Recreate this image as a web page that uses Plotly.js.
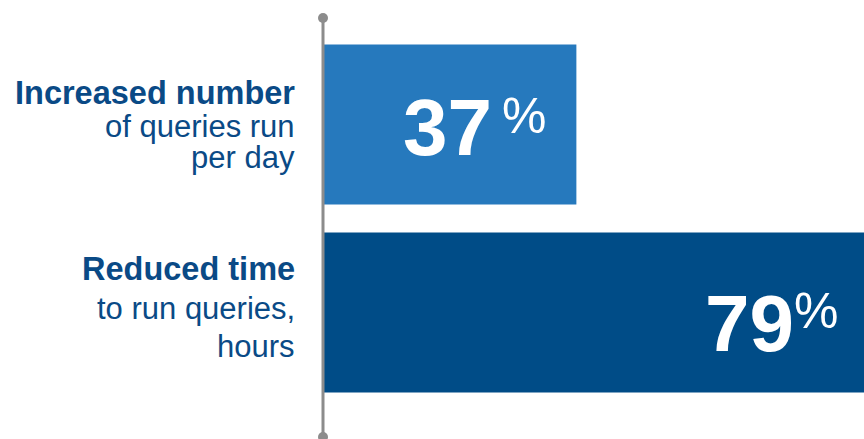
<!DOCTYPE html>
<html><head><meta charset="utf-8">
<script src="https://cdn.plot.ly/plotly-3.0.1.min.js"></script>
<style>html,body{margin:0;padding:0;background:#fff}#chart{width:864px;height:439px}</style>
</head><body><div id="chart"></div>
<script>
// ---- data ----
const categories = ['Increased number', 'Reduced time'];
const subLine1 = ['of queries run', 'to run queries,'];
const subLine2 = ['per day', 'hours'];
const values = [37, 79];
const valueSuffix = '%';

// ---- styles ----
const barColors = ['#2679BD', '#004C87'];
const labelColor = '#0a4a86';
const headShift = [32, 44];
const sub1Shift = [-2, 4];
const sub2Shift = [-33, -34];
const numXShift = [-82, -68];
const numYShift = [-2.5, -10.5];
const pctXShift = [-28, -24];
const pctYShift = [9, 2];
const axisGray = '#8c8c8c';

const trace = {
  type: 'bar', orientation: 'h',
  x: values, y: categories,
  width: 0.851,
  marker: {color: barColors, line: {width: 0}},
  hoverinfo: 'skip'
};

const annotations = [];
categories.forEach((c, i) => {
  const base = {xref: 'paper', x: 0, yref: 'y', y: c, xanchor: 'right', yanchor: 'middle',
                xshift: -26, showarrow: false, align: 'right'};
  annotations.push(Object.assign({}, base, {text: '<b>' + c + '</b>', yshift: headShift[i],
    font: {family: 'Liberation Sans, Arial, sans-serif', size: 32.5, color: labelColor}}));
  annotations.push(Object.assign({}, base, {text: subLine1[i], yshift: sub1Shift[i],
    font: {family: 'Liberation Sans, Arial, sans-serif', size: 31, color: labelColor}}));
  annotations.push(Object.assign({}, base, {text: subLine2[i], yshift: sub2Shift[i],
    font: {family: 'Liberation Sans, Arial, sans-serif', size: 31, color: labelColor}}));
  annotations.push({xref: 'x', x: values[i], yref: 'y', y: c, xanchor: 'right', yanchor: 'middle',
    xshift: numXShift[i], yshift: numYShift[i], showarrow: false,
    text: '<b>' + values[i] + '</b>',
    font: {family: 'Liberation Sans, Arial, sans-serif', size: 80, color: '#ffffff'}});
  annotations.push({xref: 'x', x: values[i], yref: 'y', y: c, xanchor: 'right', yanchor: 'middle',
    xshift: pctXShift[i], yshift: pctYShift[i], showarrow: false,
    text: valueSuffix,
    font: {family: 'Liberation Sans, Arial, sans-serif', size: 50, color: '#ffffff'}});
});

const shapes = [
  {type: 'line', xref: 'paper', x0: 0, x1: 0, yref: 'paper', y0: -0.01, y1: 1,
   line: {color: axisGray, width: 3}},
  {type: 'circle', xref: 'paper', xsizemode: 'pixel', xanchor: 0, x0: -5, x1: 5,
   yref: 'paper', ysizemode: 'pixel', yanchor: 1, y0: -5, y1: 5,
   fillcolor: axisGray, line: {width: 0}},
  {type: 'circle', xref: 'paper', xsizemode: 'pixel', xanchor: 0, x0: -5, x1: 5,
   yref: 'paper', ysizemode: 'pixel', yanchor: 0, y0: -7, y1: 3,
   fillcolor: axisGray, line: {width: 0}}
];

const layout = {
  width: 864, height: 439,
  margin: {l: 323, r: 0, t: 18, b: 4, pad: 0},
  paper_bgcolor: '#ffffff', plot_bgcolor: '#ffffff',
  showlegend: false,
  xaxis: {range: [0, 79], visible: false, fixedrange: true},
  yaxis: {type: 'category', categoryorder: 'array', categoryarray: categories.slice().reverse(),
          range: [-0.6516, 1.5665], visible: false, fixedrange: true},
  annotations: annotations,
  shapes: shapes
};

Plotly.newPlot('chart', [trace], layout, {displayModeBar: false, staticPlot: true});
</script>
</body></html>
